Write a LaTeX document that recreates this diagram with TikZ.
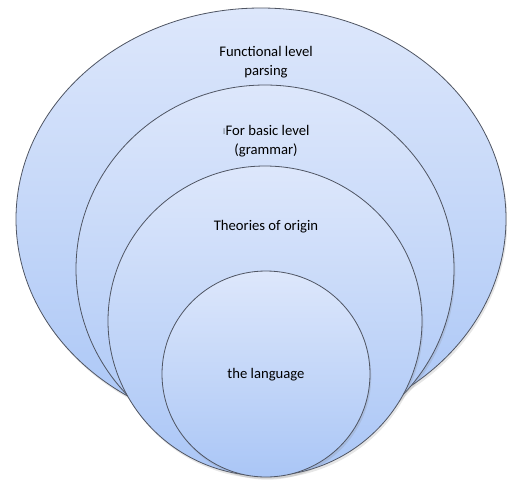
\documentclass[tikz,border=0pt]{standalone}
\usepackage{fontspec}
\setmainfont{Carlito}
\usetikzlibrary{shadows}
\definecolor{ringtop}{HTML}{DDE7FB}
\definecolor{ringbot}{HTML}{AAC6F6}
\definecolor{ringline}{HTML}{4F5563}
\tikzset{ring/.style={draw=ringline, line width=0.6pt, top color=ringtop, bottom color=ringbot,
    drop shadow={opacity=0.2, shadow xshift=1pt, shadow yshift=-2pt}},
  lbl/.style={align=center, font=\fontsize{11}{14.3}\selectfont, text=black}}

\begin{document}
\begin{tikzpicture}[x=0.75pt, y=-0.75pt]
  \useasboundingbox (0,0) rectangle (507,480);

  % rings, outer to inner
  \path[ring] (261,219) ellipse [x radius=245, y radius=211];
  \path[ring] (265,269) ellipse [x radius=189, y radius=184];
  \path[ring] (265,321) ellipse [x radius=157, y radius=155];
  \path[ring] (266,374) ellipse [x radius=104, y radius=103];

  \node[lbl] (func) at (266,62) {Functional level\\parsing};
  \node[lbl] (basic) at (266,141) {{\tiny\raisebox{.55ex}{|}}For basic level\\(grammar)};
  \node[lbl] (origin) at (266,227) {Theories of origin};
  \node[lbl] (lang) at (266,375) {the language};
\end{tikzpicture}
\end{document}
